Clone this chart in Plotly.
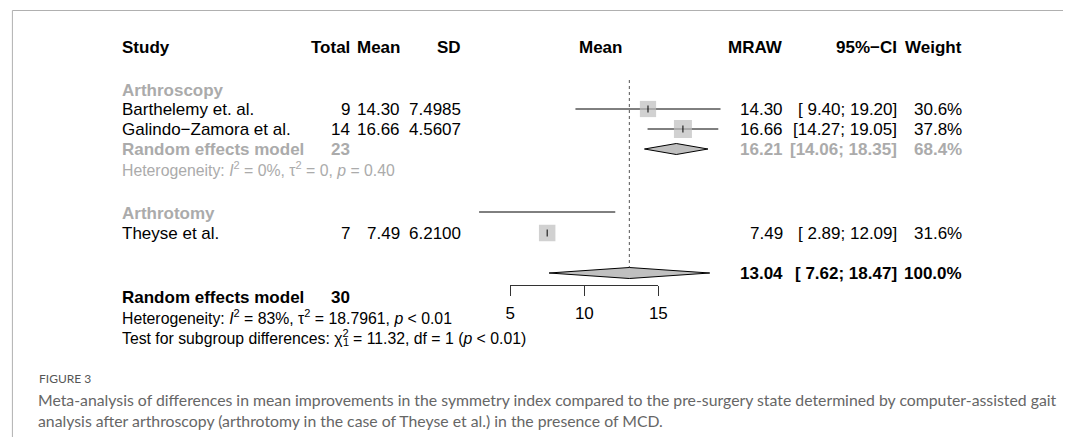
import plotly.graph_objects as go

# ---------------- data ----------------
studies = ["Barthelemy et. al.", "Galindo−Zamora et al.", "Theyse et al."]
groups = ["Arthroscopy", "Arthroscopy", "Arthrotomy"]
totals = [9, 14, 7]
means = [14.30, 16.66, 7.49]
sds = [7.4985, 4.5607, 6.2100]
ci_lo = [9.40, 14.27, 2.89]
ci_hi = [19.20, 19.05, 12.09]
weights = [30.6, 37.8, 31.6]

sub_label = "Random effects model"
sub_total = 23
sub_est, sub_lo, sub_hi, sub_w = 16.21, 14.06, 18.35, 68.4
sub_het = "Heterogeneity: <i>I</i><sup>2</sup> = 0%, τ<sup>2</sup> = 0, <i>p</i> = 0.40"

ov_total = 30
ov_est, ov_lo, ov_hi, ov_w = 13.04, 7.62, 18.47, 100.0
ov_het = "Heterogeneity: <i>I</i><sup>2</sup> = 83%, τ<sup>2</sup> = 18.7961, <i>p</i> < 0.01"
test_prefix = "Test for subgroup differences: "
test_txt = test_prefix + "χ<sup>2</sup> = 11.32, df = 1 (<i>p</i> < 0.01)"
test_df_sub = "1"

tick_vals = [5, 10, 15]

caption_head = "FIGURE 3"
caption = ("Meta-analysis of differences in mean improvements in the symmetry index compared to the pre-surgery state determined by computer-assisted gait<br>"
           "analysis after arthroscopy (arthrotomy in the case of Theyse et al.) in the presence of MCD.")

# ---------------- layout constants (pixels) ----------------
W, H = 1072, 437
AX_L_PX, AX_R_PX = 512, 662          # pixel positions of 5 and 15
AX_Y_PX = 285
PX_PER_UNIT = (AX_R_PX - AX_L_PX) / (tick_vals[-1] - tick_vals[0])
XMIN = tick_vals[0] - AX_L_PX / PX_PER_UNIT
XMAX = tick_vals[0] + (W - AX_L_PX) / PX_PER_UNIT

row_study = [109, 129, 233]
row_line = [109, 129, 212]
row_group = {"Arthroscopy": 90, "Arthrotomy": 213}
row_sub = 149
row_sub_het = 169
row_ov = 273
row_ov_lab = 297
row_ov_het = 317
row_test = 337
row_head = 47

FONT = "Liberation Sans, Arial, sans-serif"
FS = 17
FS_SMALL = 15.8
GRAY = "#ABABAB"
SQ = "#BEBEBE"

fig = go.Figure()

# CI lines
for lo, hi, y in zip(ci_lo, ci_hi, row_line):
    fig.add_trace(go.Scatter(x=[lo, hi], y=[y, y], mode="lines",
                             line=dict(color="black", width=1), hoverinfo="skip", showlegend=False))

# squares
k = 18 / max(weights) ** 0.5
fig.add_trace(go.Scatter(x=means, y=row_study, mode="markers",
                         marker=dict(symbol="square", size=[k * w ** 0.5 for w in weights], color=SQ,
                                     line=dict(width=0)),
                         hoverinfo="skip", showlegend=False))
fig.add_trace(go.Scatter(x=means, y=row_study, mode="markers",
                         marker=dict(symbol="line-ns", size=5, line=dict(color="black", width=1)),
                         hoverinfo="skip", showlegend=False))

# dotted reference line at overall estimate
fig.add_trace(go.Scatter(x=[ov_est, ov_est], y=[80, row_ov - 5.5], mode="lines",
                         line=dict(color="#555", width=1, dash="dot"), hoverinfo="skip", showlegend=False))

# diamonds
def diamond(est, lo, hi, y, h=5.5):
    fig.add_trace(go.Scatter(x=[lo, est, hi, est, lo], y=[y, y - h, y, y + h, y], mode="lines",
                             fill="toself", fillcolor="#C0C0C0",
                             line=dict(color="black", width=1), hoverinfo="skip", showlegend=False))

diamond(sub_est, sub_lo, sub_hi, row_sub)
diamond(ov_est, ov_lo, ov_hi, row_ov)

# invisible trace on display axis
fig.add_trace(go.Scatter(x=tick_vals, y=[AX_Y_PX] * 3, xaxis="x2", yaxis="y", mode="markers",
                         marker=dict(opacity=0), hoverinfo="skip", showlegend=False))

ann = []
def txt(s, xpx, ypx, anchor="left", size=FS, color="black", bold=False, family=FONT):
    if bold:
        s = "<b>" + s + "</b>"
    ann.append(dict(text=s, x=xpx / W, y=ypx, xref="paper", yref="y", xanchor=anchor, yanchor="middle",
                    showarrow=False, font=dict(family=family, size=size, color=color)))

X_STUDY, X_TOTAL, X_MEAN, X_SD = 117, 352, 402, 464
X_MRAW, X_CI, X_W = 790, 906, 972
X_PLOT_HEAD = 603

# header
txt("Study", X_STUDY, row_head, bold=True)
txt("Total", X_TOTAL, row_head, "right", bold=True)
txt("Mean", X_MEAN, row_head, "right", bold=True)
txt("SD", X_SD, row_head, "right", bold=True)
txt("Mean", X_PLOT_HEAD, row_head, "center", bold=True)
txt("MRAW", X_MRAW, row_head, "right", bold=True)
txt("95%−CI", X_CI, row_head, "right", bold=True)
txt("Weight", X_W, row_head, "right", bold=True)

for g, y in row_group.items():
    txt(g, X_STUDY, y, color=GRAY, bold=True)

for i in range(len(studies)):
    y = row_study[i]
    txt(studies[i], X_STUDY, y)
    txt(str(totals[i]), X_TOTAL, y, "right")
    txt(f"{means[i]:.2f}", X_MEAN, y, "right")
    txt(f"{sds[i]:.4f}", X_SD, y, "right")
    txt(f"{means[i]:.2f}", X_MRAW, y, "right")
    txt(f"[{ci_lo[i]:5.2f}; {ci_hi[i]:5.2f}]", X_CI, y, "right")
    txt(f"{weights[i]:.1f}%", X_W, y, "right")

# subgroup summary
txt(sub_label, X_STUDY, row_sub, color=GRAY, bold=True)
txt(str(sub_total), X_TOTAL, row_sub, "right", color=GRAY, bold=True)
txt(f"{sub_est:.2f}", X_MRAW, row_sub, "right", color=GRAY, bold=True)
txt(f"[{sub_lo:5.2f}; {sub_hi:5.2f}]", X_CI, row_sub, "right", color=GRAY, bold=True)
txt(f"{sub_w:.1f}%", X_W, row_sub, "right", color=GRAY, bold=True)
txt(sub_het, X_STUDY, row_sub_het, size=FS_SMALL, color=GRAY)

# overall
txt(f"{ov_est:.2f}", X_MRAW, row_ov, "right", bold=True)
txt(f"[{ov_lo:5.2f}; {ov_hi:5.2f}]", X_CI, row_ov, "right", bold=True)
txt(f"{ov_w:.1f}%", X_W, row_ov, "right", bold=True)
txt(sub_label, X_STUDY, row_ov_lab, bold=True)
txt(str(ov_total), X_TOTAL, row_ov_lab, "right", bold=True)
txt(ov_het, X_STUDY, row_ov_het, size=FS_SMALL)
txt(test_txt, X_STUDY, row_test, size=FS_SMALL)
# subscript under the chi-square exponent (approx. Arial advance widths)
chi_x = X_STUDY + 2 + 13.562 * FS_SMALL + 0.55 * FS_SMALL
txt(test_df_sub, chi_x - 2, row_test + 5, size=11)

# caption
CAP_FONT = "Lato, Open Sans, sans-serif"
txt(caption_head, 32, 378, size=12, color="#555", family=CAP_FONT)
ann.append(dict(text=caption, x=31 / W, y=410, xref="paper", yref="y", xanchor="left", yanchor="middle",
                align="left", showarrow=False, font=dict(family=CAP_FONT, size=15.8, color="#666")))

fig.update_layout(
    width=W, height=H, margin=dict(l=0, r=0, t=0, b=0),
    paper_bgcolor="white", plot_bgcolor="rgba(0,0,0,0)",
    xaxis=dict(range=[XMIN, XMAX], visible=False, domain=[0, 1]),
    yaxis=dict(range=[H, 0], visible=False, domain=[0, 1]),
    xaxis2=dict(range=[tick_vals[0], tick_vals[-1]], domain=[AX_L_PX / W, AX_R_PX / W],
                anchor="free", position=1 - AX_Y_PX / H, side="bottom",
                showline=True, linecolor="#333", linewidth=1, ticks="outside", ticklen=10,
                tickcolor="#333", tickwidth=1, tickvals=tick_vals, showgrid=False, zeroline=False,
                ticklabelstandoff=3,
                tickfont=dict(family=FONT, size=FS, color="black")),
    annotations=ann,
    shapes=[
        dict(type="line", xref="paper", yref="paper", x0=7.5 / W, x1=1, y0=1 - 10.5 / H, y1=1 - 10.5 / H,
             line=dict(color="#B0B0B0", width=1)),
        dict(type="line", xref="paper", yref="paper", x0=7.5 / W, x1=7.5 / W, y0=0, y1=1 - 10.5 / H,
             line=dict(color="#B0B0B0", width=1)),
    ],
)

fig.write_html("out.html", config={"displayModeBar": False},
               post_script="document.body.style.margin='0';")
